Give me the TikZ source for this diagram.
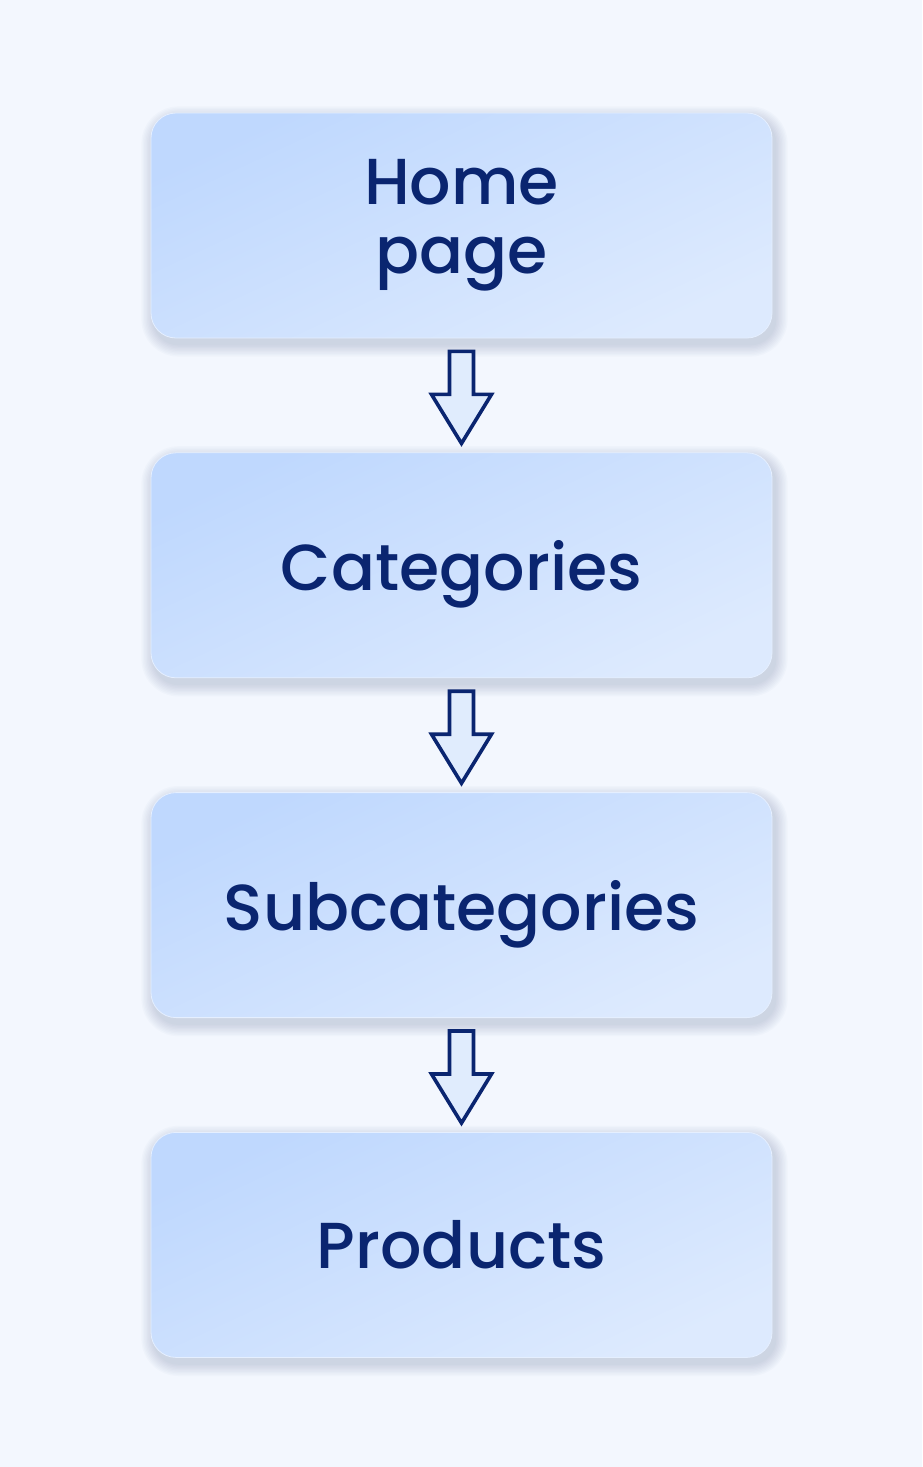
\documentclass[tikz,border=0pt]{standalone}
\usepackage{fontspec}
\setmainfont{Poppins Medium}
\usepackage{xcolor}
\usepackage{tikz}
\usetikzlibrary{positioning,backgrounds}
\definecolor{pagebg}{HTML}{F3F7FE}
\definecolor{boxtop}{HTML}{BFD8FE}
\definecolor{boxbottom}{HTML}{DDEAFE}
\definecolor{boxshadow}{HTML}{5C6F94}
\definecolor{navytext}{HTML}{0A2570}
\definecolor{arrowfill}{HTML}{E0ECFD}
\tikzset{
  level box/.style={rectangle,rounded corners=12.5pt,minimum width=310.5pt,
    minimum height=112.5pt,inner sep=0pt,top color=boxtop,bottom color=boxbottom,
    shading angle=25,draw=white!60!boxtop,line width=0.4pt,
    text=navytext,align=center,text depth=0pt,
    font=\fontsize{32.5}{34.5}\selectfont},
  soft shadow/.style={fill=boxshadow,fill opacity=0.028},
  flow arrow/.style={draw=navytext,fill=arrowfill,line width=1.8pt,line join=miter}
}

\begin{document}
\begin{tikzpicture}
  \useasboundingbox (0,0) rectangle (461pt,-733.5pt);
  \node[level box,text depth={}] (home) at (230.75pt,-112.75pt) {Home\\page};
  \node[level box,below=57pt of home] (cat) {Categories};
  \node[level box,below=57pt of cat] (sub) {Subcategories};
  \node[level box,below=57pt of sub] (prod) {Products};
  \foreach \a/\b in {home/cat,cat/sub,sub/prod} {
    \path (\a.south) ++(0,-6.5pt) coordinate (\a-tail);
    \draw[flow arrow] (\a-tail) ++(-6pt,0) -- ++(12pt,0) -- ++(0,-21.5pt)
      -- ++(9pt,0) -- ++(-15pt,-24.5pt) -- ++(-15pt,24.5pt) -- ++(9pt,0) -- cycle;
  }
  \begin{scope}[on background layer]
    \fill[pagebg] (0,0) rectangle (461pt,-733.5pt);
    \foreach \n in {home,cat,sub,prod} {
      \foreach \r in {0.5,1.2,...,6.1} {
        \fill[soft shadow,rounded corners=12.5pt+\r pt]
          ([shift={(1.5pt-\r pt,-3pt-\r pt)}]\n.south west)
          rectangle ([shift={(1.5pt+\r pt,-3pt+\r pt)}]\n.north east);
      }
    }
  \end{scope}
\end{tikzpicture}
\end{document}
